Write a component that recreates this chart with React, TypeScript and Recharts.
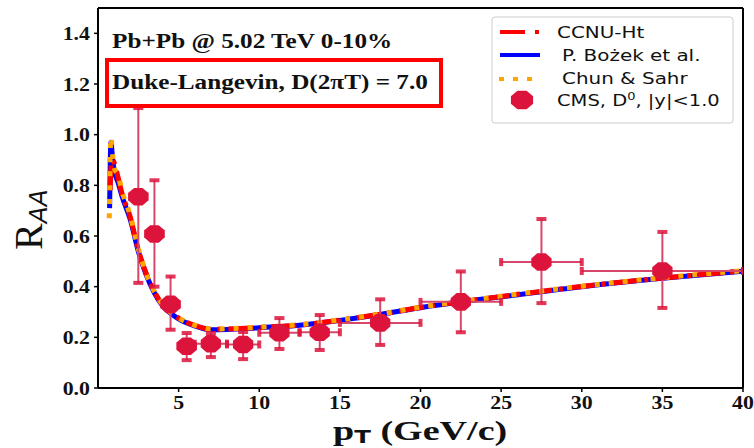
import React from "react";
import {
  ComposedChart,
  Line,
  Scatter,
  XAxis,
  YAxis,
  ErrorBar,
  ReferenceLine,
} from "recharts";

// CCNU-Ht
const ccnuPt = [0.75, 0.85, 1.0, 1.25, 1.5, 2.0, 2.5, 3.0, 3.5, 4.0, 4.5, 5.0, 6.0, 7.0, 8.0, 10, 12.5, 15, 17.5, 20, 25, 30, 35, 40];
const ccnuRaa = [0.78, 0.9, 0.89, 0.83, 0.765, 0.675, 0.545, 0.45, 0.38, 0.328, 0.298, 0.276, 0.247, 0.232, 0.233, 0.239, 0.249, 0.268, 0.291, 0.318, 0.361, 0.401, 0.434, 0.462];

// P. Bozek et al.
const bozekPt = [0.72, 0.8, 0.9, 1.0, 1.25, 1.5, 2.0, 2.5, 3.0, 3.5, 4.0, 4.5, 5.0, 6.0, 7.0, 8.0, 10, 12.5, 15, 17.5, 20, 25, 30, 35, 40];
const bozekRaa = [0.71, 0.97, 0.91, 0.86, 0.81, 0.755, 0.665, 0.54, 0.445, 0.375, 0.325, 0.295, 0.273, 0.245, 0.23, 0.231, 0.238, 0.248, 0.267, 0.29, 0.317, 0.36, 0.4, 0.433, 0.461];

// Chun & Sahr
const chunPt = [0.7, 0.8, 0.9, 1.0, 1.25, 1.5, 2.0, 2.5, 3.0, 3.5, 4.0, 4.5, 5.0, 6.0, 7.0, 8.0, 10, 12.5, 15, 17.5, 20, 25, 30, 35, 40];
const chunRaa = [0.67, 0.99, 0.92, 0.87, 0.84, 0.775, 0.68, 0.55, 0.45, 0.38, 0.33, 0.298, 0.276, 0.248, 0.233, 0.234, 0.24, 0.25, 0.269, 0.292, 0.319, 0.362, 0.402, 0.435, 0.463];

// CMS D0, |y|<1.0
const cmsPt = [2.5, 3.5, 4.5, 5.5, 7, 9, 11.25, 13.75, 17.5, 22.5, 27.5, 35];
const cmsPtLow = [2, 3, 4, 5, 6, 8, 10, 12.5, 15, 20, 25, 30];
const cmsPtHigh = [3, 4, 5, 6, 8, 10, 12.5, 15, 20, 25, 30, 40];
const cmsRaa = [0.755, 0.608, 0.33, 0.165, 0.175, 0.172, 0.218, 0.22, 0.257, 0.34, 0.497, 0.462];
const cmsRaaLow = [0.415, 0.4, 0.23, 0.11, 0.122, 0.114, 0.154, 0.15, 0.17, 0.22, 0.335, 0.316];
const cmsRaaHigh = [1.105, 0.82, 0.44, 0.217, 0.217, 0.221, 0.276, 0.288, 0.35, 0.46, 0.667, 0.616];

const xTicks = [5, 10, 15, 20, 25, 30, 35, 40];
const yTicks = [0, 0.2, 0.4, 0.6, 0.8, 1.0, 1.2, 1.4];

const zip = (xs: number[], ys: number[]) => xs.map((x, i) => ({ x, y: ys[i] }));

const ccnu = zip(ccnuPt, ccnuRaa);
const bozek = zip(bozekPt, bozekRaa);
const chun = zip(chunPt, chunRaa);
const cms = cmsPt.map((x, i) => ({
  x,
  y: cmsRaa[i],
  ex: [x - cmsPtLow[i], cmsPtHigh[i] - x],
  ey: [cmsRaa[i] - cmsRaaLow[i], cmsRaaHigh[i] - cmsRaa[i]],
}));
const capsTop = zip(cmsPt, cmsRaaHigh);
const capsBottom = zip(cmsPt, cmsRaaLow);
const capsLeft = zip(cmsPtLow, cmsRaa);
const capsRight = zip(cmsPtHigh, cmsRaa);

const CRIMSON = "#dc143c";
const ERR = "#d6476b";
const SERIF = "'Liberation Serif', 'Times New Roman', serif";
const SANS = "'DejaVu Sans', sans-serif";

function octagon(cx: number, cy: number, rx: number, ry: number) {
  const pts: string[] = [];
  for (let k = 0; k < 8; k++) {
    const a = (Math.PI / 8) * (2 * k + 1);
    pts.push(`${cx + rx * Math.cos(a)},${cy + ry * Math.sin(a)}`);
  }
  return pts.join(" ");
}

function AxisTick(props: any) {
  const { x, y, payload, axis } = props;
  const isY = axis === "y";
  const label = isY ? Number(payload.value).toFixed(1) : String(payload.value);
  return (
    <g transform={`translate(${x},${y}) scale(1.15,1)`}>
      <text
        x={0}
        y={0}
        dy={isY ? "0.35em" : "0.71em"}
        textAnchor={isY ? "end" : "middle"}
        fontFamily={SERIF}
        fontWeight="bold"
        fontSize={19}
        fill="#111"
      >
        {label}
      </text>
    </g>
  );
}

function Stretch({ x, y, sx, children }: { x: number; y: number; sx: number; children: React.ReactNode }) {
  return <g transform={`translate(${x},${y}) scale(${sx},1)`}>{children}</g>;
}

function Overlay() {
  return (
    <svg
      width={754}
      height={448}
      style={{ position: "absolute", left: 0, top: 0, pointerEvents: "none" }}
    >
      {/* Textbox oben links */}
      <Stretch x={112} y={48} sx={1.2}>
        <text fontFamily={SERIF} fontWeight="bold" fontSize={21} fill="#111">
          Pb+Pb @ 5.02 TeV 0-10%
        </text>
      </Stretch>
      <rect x={107} y={60} width={334} height={46} fill="none" stroke="#ff0000" strokeWidth={4} />
      <Stretch x={112} y={89} sx={1.2}>
        <text fontFamily={SERIF} fontWeight="bold" fontSize={21} fill="#111">
          Duke-Langevin, D(2πT) = 7.0
        </text>
      </Stretch>

      {/* Legende */}
      <rect x={492} y={17} width={241} height={106} rx={3} fill="#fff" fillOpacity={0.85} stroke="#cccccc" />
      <rect x={500} y={30} width={25} height={4} fill="#ff0000" />
      <rect x={535} y={30} width={4} height={4} fill="#ff0000" />
      <rect x={500} y={53} width={40} height={4} fill="#0000ff" />
      <rect x={499} y={77} width={5} height={4} fill="#ffa500" />
      <rect x={513} y={77} width={5} height={4} fill="#ffa500" />
      <rect x={527} y={77} width={5} height={4} fill="#ffa500" />
      <polygon points={octagon(522, 100, 12, 10)} fill={CRIMSON} />
      <Stretch x={557} y={37.5} sx={1.33}>
        <text fontFamily={SANS} fontSize={15} fill="#111">CCNU-Ht</text>
      </Stretch>
      <Stretch x={562} y={60.5} sx={1.33}>
        <text fontFamily={SANS} fontSize={15} fill="#111">P. Bożek et al.</text>
      </Stretch>
      <Stretch x={562} y={84} sx={1.33}>
        <text fontFamily={SANS} fontSize={15} fill="#111">Chun &amp; Sahr</text>
      </Stretch>
      <Stretch x={557} y={105.5} sx={1.3}>
        <text fontFamily={SANS} fontSize={15} fill="#111">
          CMS, D<tspan fontSize={10} dy={-6}>0</tspan>
          <tspan dy={6}>, |y|&lt;1.0</tspan>
        </text>
      </Stretch>

      {/* Achsentitel */}
      <g transform="translate(42,250) rotate(-90)">
        <text fontFamily={SERIF} fontSize={40} fill="#111">
          R<tspan fontFamily={SANS} fontStyle="italic" fontSize={25} dy={5}>AA</tspan>
        </text>
      </g>
      <Stretch x={333} y={440} sx={1.36}>
        <text fontFamily={SERIF} fontWeight="bold" fontSize={28} fill="#111">
          p<tspan fontFamily={SANS} fontSize={18} dy={3}>T</tspan>
          <tspan dy={-3}> (GeV/c)</tspan>
        </text>
      </Stretch>
    </svg>
  );
}

const capH = (p: any) => <rect x={p.cx - 5} y={p.cy - 2} width={10} height={4} fill={CRIMSON} fillOpacity={0.85} />;
const capV = (p: any) => <rect x={p.cx - 2} y={p.cy - 4} width={4} height={8} fill={CRIMSON} fillOpacity={0.85} />;

export default function App() {
  return (
    <div style={{ position: "absolute", left: 0, top: 0, width: 754, height: 448, background: "#fff" }}>
      <ComposedChart
        width={754}
        height={448}
        margin={{ top: 8, right: 11, left: 0, bottom: 30 }}
      >
        <XAxis
          dataKey="x"
          type="number"
          domain={[0, 40]}
          ticks={xTicks}
          allowDataOverflow
          height={30}
          axisLine={{ stroke: "#000", strokeWidth: 2 }}
          tickLine={{ stroke: "#000", strokeWidth: 1.5 }}
          tickSize={4}
          tickMargin={4}
          tick={(p: any) => <AxisTick {...p} axis="x" />}
        />
        <YAxis
          dataKey="y"
          type="number"
          domain={[0, 1.5]}
          ticks={yTicks}
          allowDataOverflow
          width={98}
          axisLine={{ stroke: "#000", strokeWidth: 2 }}
          tickLine={{ stroke: "#000", strokeWidth: 1.5 }}
          tickSize={4}
          tickMargin={4}
          tick={(p: any) => <AxisTick {...p} axis="y" />}
        />
        <ReferenceLine y={1.5} stroke="#000" strokeWidth={2} />
        <ReferenceLine x={40} stroke="#000" strokeWidth={2} />

        <Line
          data={bozek}
          dataKey="y"
          type="monotone"
          stroke="#0000ff"
          strokeWidth={5}
          dot={false}
          isAnimationActive={false}
        />
        <Line
          data={ccnu}
          dataKey="y"
          type="monotone"
          stroke="#ff0000"
          strokeWidth={5}
          strokeDasharray="25 7 4 7"
          dot={false}
          isAnimationActive={false}
        />
        <Line
          data={chun}
          dataKey="y"
          type="monotone"
          stroke="#ffa500"
          strokeWidth={5}
          strokeDasharray="5 9"
          dot={false}
          isAnimationActive={false}
        />

        <Scatter data={cms} fill="none" shape={() => <g />} isAnimationActive={false}>
          <ErrorBar dataKey="ey" direction="y" width={0} stroke={ERR} strokeWidth={2} isAnimationActive={false} />
          <ErrorBar dataKey="ex" direction="x" width={0} stroke={ERR} strokeWidth={2} isAnimationActive={false} />
        </Scatter>
        <Scatter data={capsTop} shape={capH} isAnimationActive={false} />
        <Scatter data={capsBottom} shape={capH} isAnimationActive={false} />
        <Scatter data={capsLeft} shape={capV} isAnimationActive={false} />
        <Scatter data={capsRight} shape={capV} isAnimationActive={false} />
        <Scatter
          data={cms}
          shape={(p: any) => <polygon points={octagon(p.cx, p.cy, 11, 9.5)} fill={CRIMSON} />}
          isAnimationActive={false}
        />
      </ComposedChart>
      <Overlay />
    </div>
  );
}
